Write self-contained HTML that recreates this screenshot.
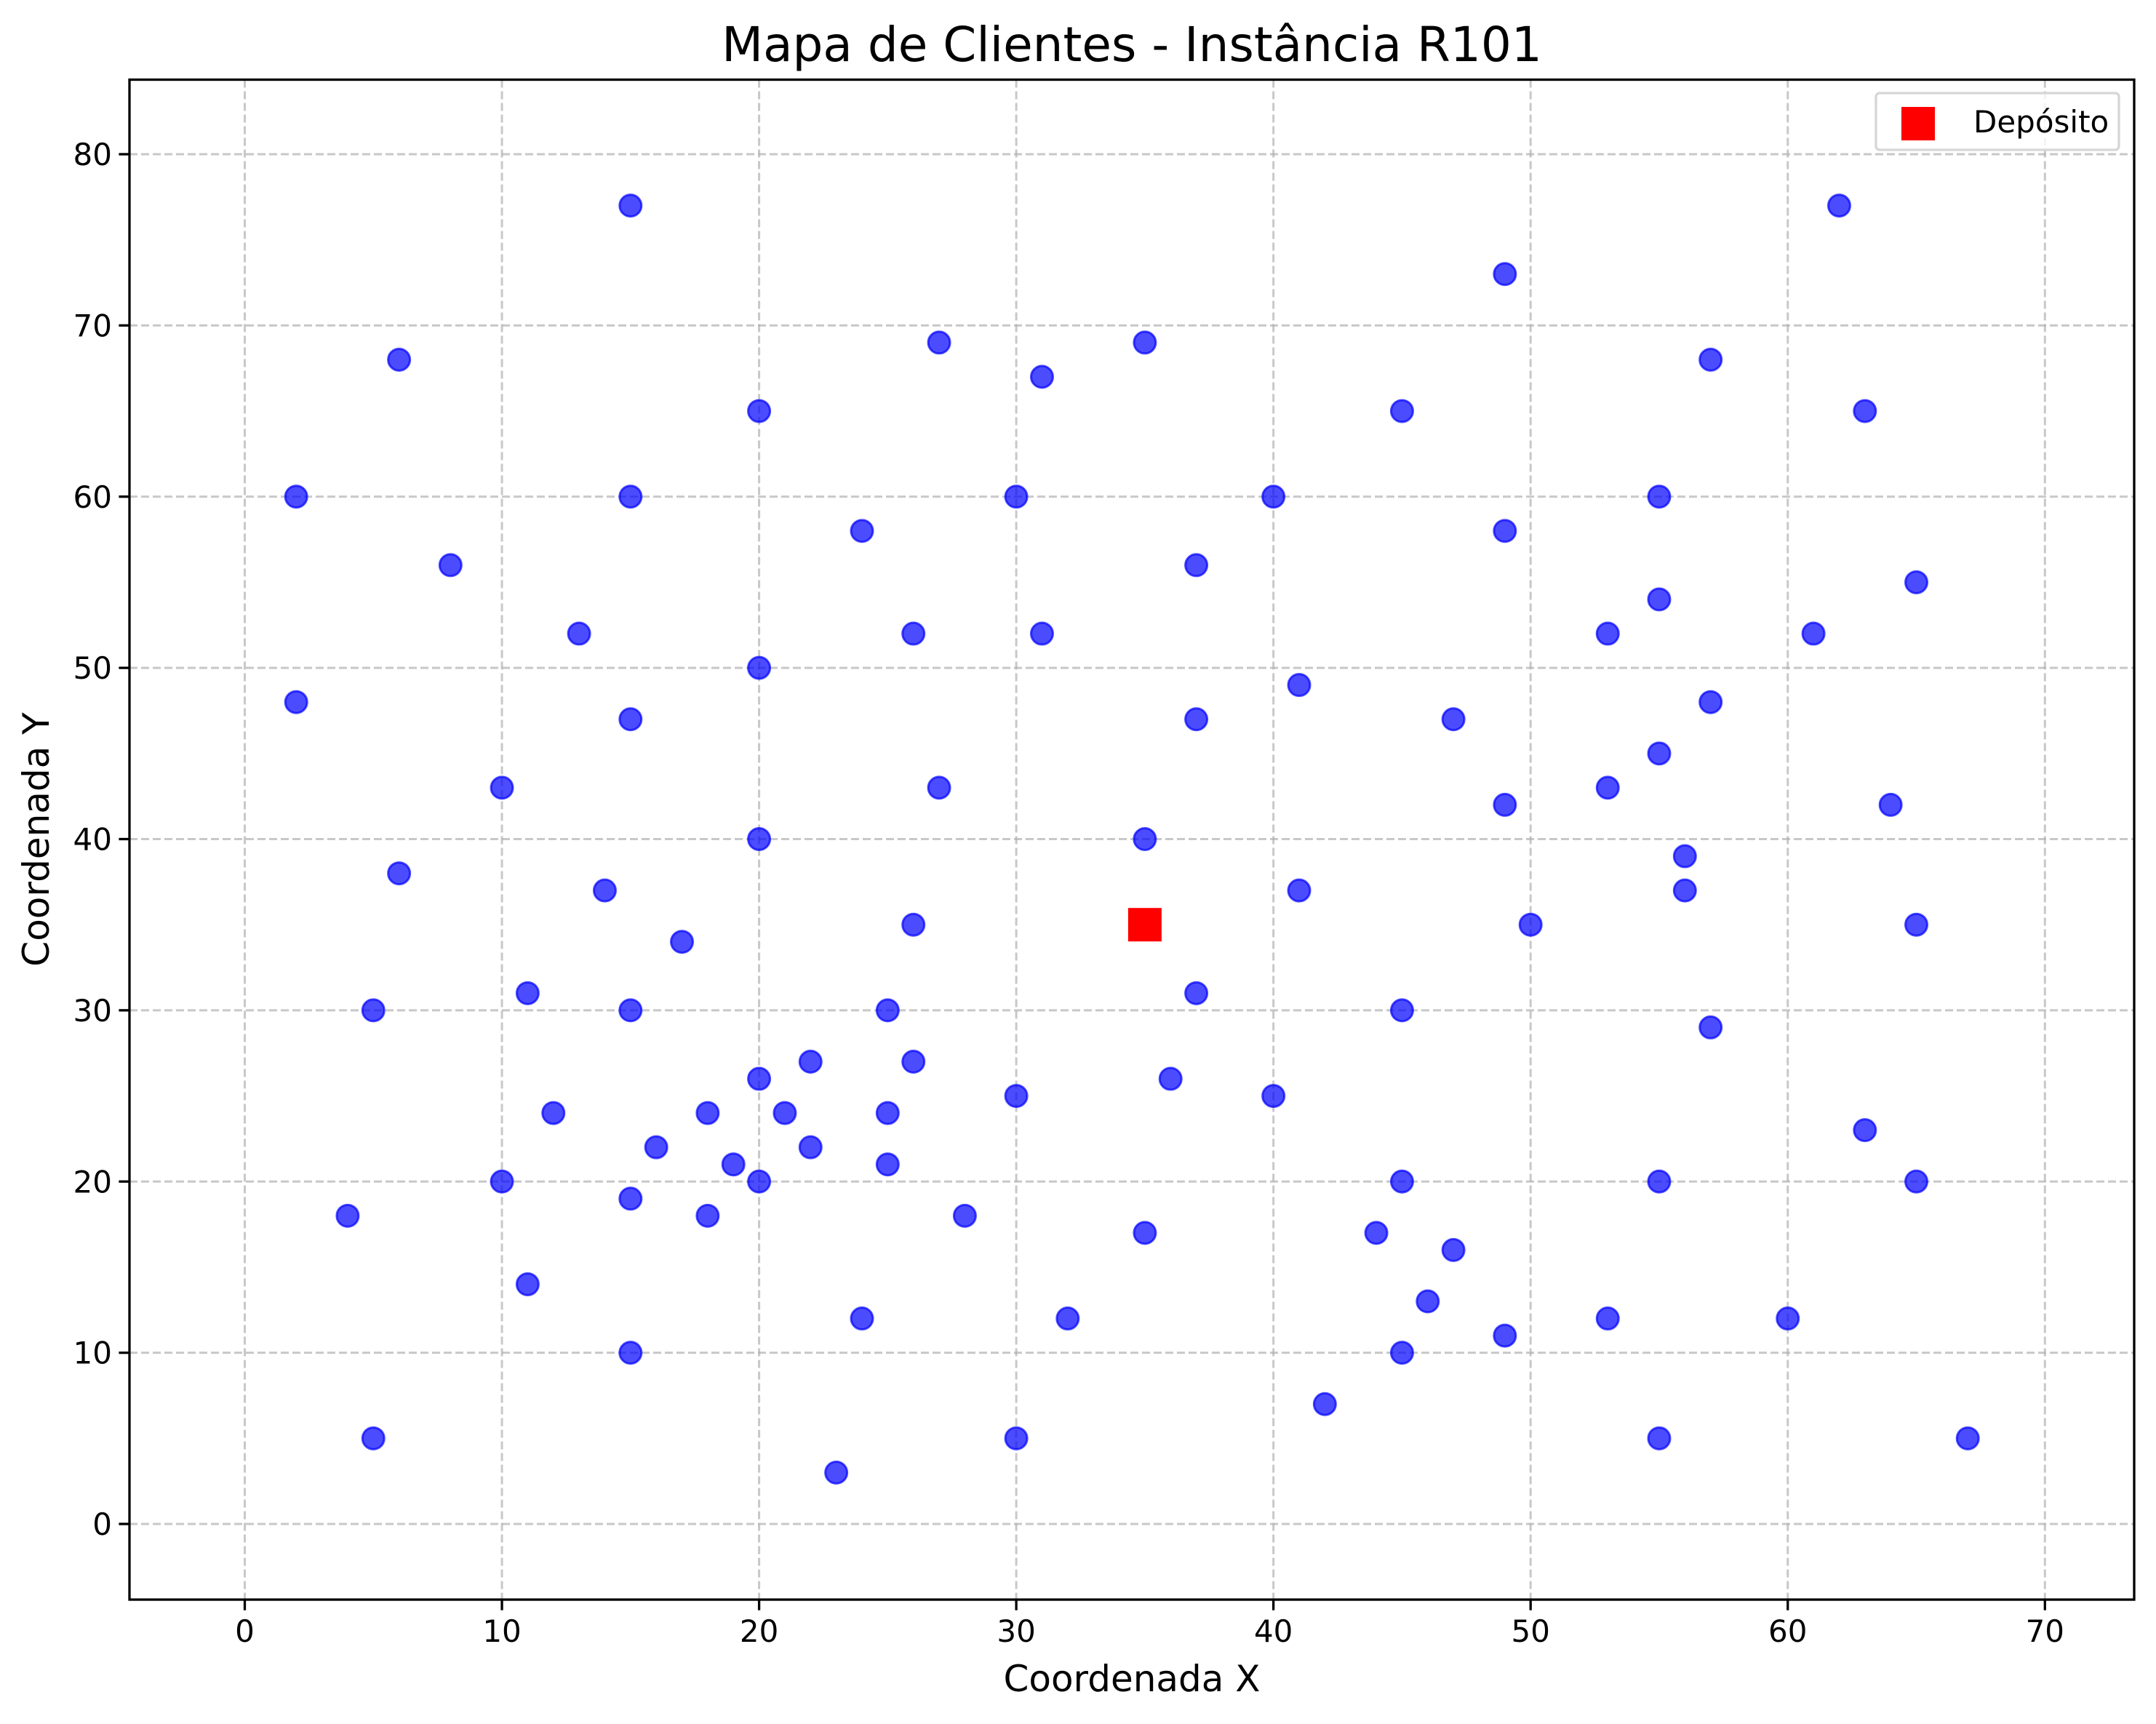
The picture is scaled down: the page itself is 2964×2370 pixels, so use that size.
<!DOCTYPE html>
<html><head><meta charset="utf-8"><style>
html,body{margin:0;padding:0;background:#fff}
svg text{font-family:"DejaVu Sans","Liberation Sans",sans-serif}
</style></head><body>
<svg id="chart" width="2964" height="2365" xmlns="http://www.w3.org/2000/svg">
<rect width="2964" height="2365" fill="#fff"/>
<g id="grid"></g>
<g id="points"></g>
<rect x="178" y="109.5" width="2756" height="2089.5" fill="none" stroke="#000" stroke-width="3.3"/>
<g id="ticks"></g>
<text x="1556" y="84" font-size="66" text-anchor="middle">Mapa de Clientes - Instância R101</text>
<text x="1556" y="2325" font-size="50" text-anchor="middle">Coordenada X</text>
<text transform="translate(67,1154) rotate(-90)" font-size="50" text-anchor="middle">Coordenada Y</text>
<g>
<rect x="2579" y="128" width="334" height="78" rx="5" fill="#fff" fill-opacity="0.8" stroke="#d6d6d6" stroke-width="3.3"/>
<rect x="2614" y="147" width="46" height="46" fill="#ff0000"/>
<text x="2713" y="182" font-size="42">Depósito</text>
</g>
</svg>
<script>
const xs=[41,35,55,55,15,25,20,10,55,30,20,50,30,15,30,10,5,20,15,45,45,45,55,65,65,45,35,41,64,40,31,35,53,65,63,2,20,5,60,40,42,24,23,11,6,2,8,13,6,47,49,27,37,57,63,53,32,36,21,17,12,24,27,15,62,49,67,56,37,37,57,47,44,46,49,49,53,61,57,56,55,15,14,11,16,4,28,26,26,31,15,22,18,26,25,22,25,19,20,18];
const ys=[49,17,45,20,30,30,50,43,60,60,65,35,25,10,5,20,30,40,60,65,20,10,5,35,20,30,40,37,42,60,52,69,52,55,65,60,20,5,12,25,7,12,3,14,38,48,56,52,68,47,58,43,31,29,23,12,12,26,24,34,24,58,69,77,77,73,5,39,47,56,68,16,17,13,11,42,43,52,48,37,54,47,37,31,22,18,18,52,35,67,19,22,24,27,24,27,21,21,26,18];
const depot=[35,35];
const xTicks=[0,10,20,30,40,50,60,70];
const yTicks=[0,10,20,30,40,50,60,70,80];
const L=178,R=2934,T=109.5,B=2199;
function sx(v){return 336.5+(v)*(2811.3-336.5)/70;}
function sy(v){return 2095+(v)*(212-2095)/80;}
const NS="http://www.w3.org/2000/svg";
const grid=document.getElementById('grid'),ticks=document.getElementById('ticks'),pts=document.getElementById('points');
function mk(tag,attrs,parent){const e=document.createElementNS(NS,tag);for(const k in attrs)e.setAttribute(k,attrs[k]);parent.appendChild(e);return e;}
xTicks.forEach(t=>{const x=sx(t);
 const g=mk('line',{x1:x,x2:x,y1:T,y2:B,stroke:'#b0b0b0','stroke-opacity':0.7,'stroke-width':3,'stroke-dasharray':'11 5'},grid);
 
 
 const tk=mk('line',{x1:x,x2:x,y1:B,y2:B+14.6,stroke:'#000','stroke-width':3.3},ticks);
 
 
 const tx=mk('text',{x:x,y:B+58,'font-size':42,'text-anchor':'middle'},ticks);tx.textContent=t;
 
 
});
yTicks.forEach(t=>{const y=sy(t);
 const g=mk('line',{x1:L,x2:R,y1:y,y2:y,stroke:'#b0b0b0','stroke-opacity':0.7,'stroke-width':3,'stroke-dasharray':'11 5'},grid);
 
 
 const tk=mk('line',{x1:L-14.6,x2:L,y1:y,y2:y,stroke:'#000','stroke-width':3.3},ticks);
 
 
 const tx=mk('text',{x:L-24,y:y+15,'font-size':42,'text-anchor':'end'},ticks);tx.textContent=t;
 
 
});
xs.forEach((v,i)=>{
 const c=mk('circle',{cx:sx(v),cy:sy(ys[i]),r:15,fill:'rgba(0,0,255,0.7)',stroke:'rgba(0,0,255,0.7)','stroke-width':3},pts);
 
 
});
const d=mk('rect',{x:sx(depot[0])-23,y:sy(depot[1])-23,width:46,height:46,fill:'#ff0000'},pts);


</script>
</body></html>
